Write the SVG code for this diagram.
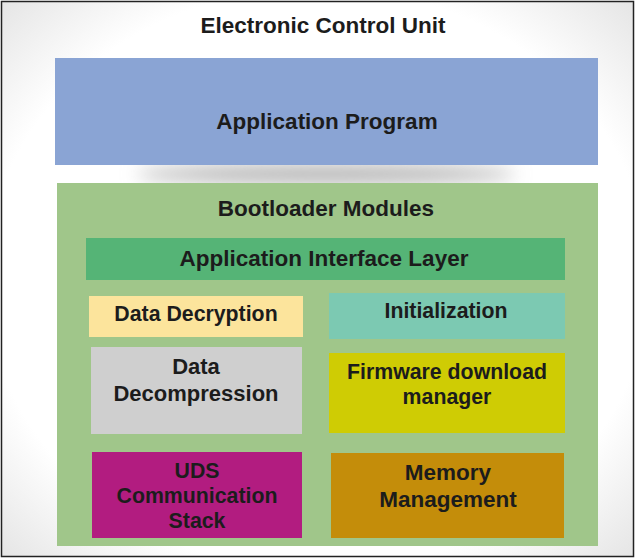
<svg xmlns="http://www.w3.org/2000/svg" width="637" height="560" viewBox="0 0 637 560">
<style>
text{font-family:"Liberation Sans",Arial,sans-serif;font-weight:bold;fill:#1c1c1c;text-anchor:middle}
.big{font-size:22.5px}
.mid{font-size:22px}
.sm{font-size:21.3px}
</style>
<defs>
<filter id="blur" x="-20%" y="-100%" width="140%" height="300%"><feGaussianBlur stdDeviation="9"/></filter>
<radialGradient id="vig" cx="50%" cy="50%" r="70%">
<stop offset="0.75" stop-color="#ffffff"/>
<stop offset="1" stop-color="#e6e6e6"/>
</radialGradient>
</defs>
<rect x="1.5" y="1.5" width="632" height="555" fill="url(#vig)" stroke="#222" stroke-width="1.5"/>
<g id="ecu">
<text class="big" x="323" y="33">Electronic Control Unit</text>
</g>
<ellipse cx="326" cy="174" rx="190" ry="9" fill="#b0b0b0" filter="url(#blur)"/>
<g id="app-program">
<rect x="55" y="58" width="543" height="107" fill="#8aa4d4"/>
<text class="big" x="327" y="129">Application Program</text>
</g>
<g id="bootloader">
<rect x="57" y="183" width="541" height="363" fill="#a0c68a"/>
<text class="big" x="326" y="216">Bootloader Modules</text>
</g>
<g id="app-interface">
<rect x="86" y="238" width="479" height="42" fill="#55b476"/>
<text class="big" x="324" y="266">Application Interface Layer</text>
</g>
<g id="data-decryption">
<rect x="89" y="296" width="214" height="41" fill="#fce49c"/>
<text class="sm" x="196" y="321">Data Decryption</text>
</g>
<g id="initialization">
<rect x="329" y="293" width="236" height="46" fill="#7cc9b2"/>
<text class="sm" x="446" y="318">Initialization</text>
</g>
<g id="data-decompression">
<rect x="91" y="347" width="211" height="87" fill="#cfcfcf"/>
<text class="mid" x="196" y="374">Data</text>
<text class="mid" x="196" y="401">Decompression</text>
</g>
<g id="firmware-download">
<rect x="329" y="353" width="236" height="80" fill="#cfcc04"/>
<text class="sm" x="447" y="379">Firmware download</text>
<text class="sm" x="447" y="404">manager</text>
</g>
<g id="uds">
<rect x="92" y="452" width="210" height="86" fill="#b21c80"/>
<text class="sm" x="197" y="478">UDS</text>
<text class="sm" x="197" y="503">Communication</text>
<text class="sm" x="197" y="528">Stack</text>
</g>
<g id="memory">
<rect x="331" y="453" width="233" height="85" fill="#c48d0a"/>
<text class="big" x="448" y="480">Memory</text>
<text class="big" x="448" y="507">Management</text>
</g>
<g id="connectors"></g>
</svg>
